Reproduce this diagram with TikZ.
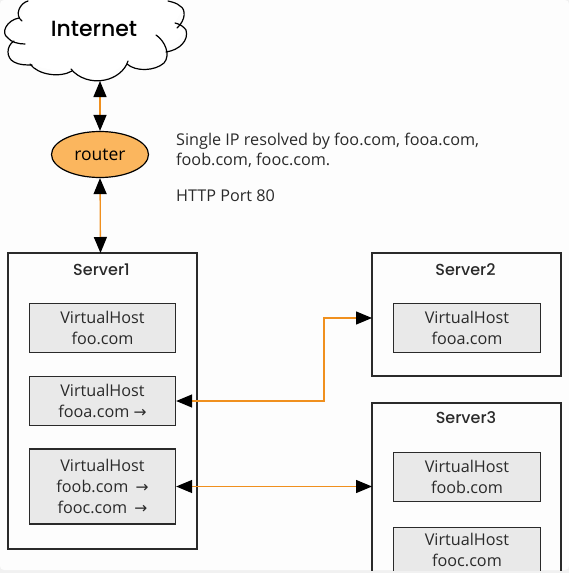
\documentclass[tikz,border=0pt]{standalone}
\usepackage{fontspec}
\setmainfont{Open Sans}
\newfontfamily\medfont{Poppins Medium}
\newfontfamily\arrfont{DejaVu Sans}
\usetikzlibrary{arrows.meta,shapes.geometric}
\definecolor{orangeln}{HTML}{F0901E}
\definecolor{routerfill}{HTML}{FBB65E}
\definecolor{vhfill}{HTML}{E9E9E9}
\definecolor{ln}{HTML}{2A2A2A}
\definecolor{pagebg}{HTML}{FDFDFD}
\definecolor{stripbg}{HTML}{F1F1F1}
\newcommand{\rarr}{{\arrfont\fontsize{15.5}{13}\selectfont →}}
\tikzset{
  x=1pt,y=-1pt,
  server/.style={draw=ln,line width=1.3pt,fill=none,inner sep=0},
  vhost/.style={draw=ln,line width=1.3pt,fill=vhfill,text=ln,align=center,anchor=center,inner sep=0,font=\fontsize{16.2}{20.6}\selectfont},
  title/.style={font=\medfont\fontsize{16}{20}\selectfont,text=ln},
  link/.style={draw=orangeln,line width=1.3pt},
  tipb/.style={{Triangle[black,length=16pt,width=13pt]}-{Triangle[black,length=16pt,width=13pt]}},
  cloudarc/.style={draw=black,line width=1.2pt,line cap=round}
}
\begin{document}
\begin{tikzpicture}
\useasboundingbox (0,0) rectangle (569,573);
\fill[stripbg] (0,0) rectangle (569,573);
\fill[pagebg,rounded corners=4pt] (0,0) rectangle (569,570);
\begin{scope}
\clip (0,0) rectangle (569,570);
% cloud
\fill[white] (28,0) -- (20,18) -- (4,32) -- (14,44) -- (7,55) -- (30,65) -- (70,74) -- (100,81) -- (128,62) -- (165,62) -- (166,50) -- (186,32) -- (175,23) -- (183,8) -- (168,0) -- cycle;
\draw[cloudarc] (28,1) .. controls (20,3) and (14,15) .. (22,21);
\draw[cloudarc] (19,18) .. controls (7,20) and (0,33) .. (8,38) .. controls (11,42) and (18,44) .. (25,44);
\draw[cloudarc] (14,41) .. controls (6,46) and (6,58) .. (14,62) .. controls (19,65) and (26,65) .. (32,65);
\draw[cloudarc] (30,64) .. controls (38,75) and (60,78) .. (72,71);
\draw[cloudarc] (71,69) .. controls (78,78) and (92,83) .. (105,80) .. controls (115,78) and (125,71) .. (128,61);
\draw[cloudarc] (127,64) .. controls (136,72) and (155,71) .. (164,63) .. controls (171,55) and (165,41) .. (156,35);
\draw[cloudarc] (166,52) .. controls (180,50) and (189,40) .. (186,30) .. controls (184,27) and (180,24) .. (175,23);
\draw[cloudarc] (177,28) .. controls (186,20) and (186,9) .. (180,6) .. controls (177,3) and (172,2) .. (168,1);
\end{scope}
\node[font=\medfont\fontsize{22}{28}\selectfont,text=black] (inet) at (94,29) {Internet};
\coordinate (inetb) at (100,81);
\node[draw=black,line width=1.2pt,fill=routerfill,ellipse,minimum width=97pt,minimum height=46pt,inner sep=0,font=\fontsize{17.5}{20}\selectfont] (router) at (100,154.5) {router};
\node[anchor=north west,align=left,font=\fontsize{16.2}{20.5}\selectfont,text=ln,inner sep=0] (note) at (176,132.5) {Single IP resolved by foo.com, fooa.com,\\foob.com, fooc.com.\\[15pt]HTTP Port 80};
% servers
\draw[server] (8,253) rectangle (197,549);
\node[title] (s1) at (101.5,269.5) {Server1};
\draw[server] (372,253) rectangle (561,376);
\node[title] (s2) at (465.5,269.5) {Server2};
\coordinate (s2w) at (372,318);
\begin{scope}
\clip (0,0) rectangle (569,570);
\draw[server] (372,403) rectangle (561,590);
\end{scope}
\node[title] (s3) at (466,418) {Server3};
\coordinate (s3w) at (372,486.5);
\coordinate (s1n) at (100.5,253);
\node[vhost,minimum width=146pt,minimum height=49pt] (v1) at (102.5,328) {VirtualHost\\foo.com};
\node[vhost,minimum width=146pt,minimum height=49pt] (v2) at (102.5,401) {VirtualHost\\fooa.com \rarr};
\node[vhost,minimum width=146pt,minimum height=75pt] (v3) at (102.5,486.5) {VirtualHost\\foob.com\hspace{3pt} \rarr\\fooc.com\hspace{3pt} \rarr};
\node[vhost,minimum width=147pt,minimum height=49pt] (v4) at (467,328) {VirtualHost\\fooa.com};
\node[vhost,minimum width=147pt,minimum height=49pt] (v5) at (467,477) {VirtualHost\\foob.com};
\begin{scope}
\clip (0,0) rectangle (569,570);
\node[vhost,minimum width=147pt,minimum height=76pt,anchor=north] (v6) at (467,527) {};
\end{scope}
\node[font=\fontsize{16.2}{20.6}\selectfont,align=center,text=ln,inner sep=0,anchor=north] (v6t) at (467,533) {VirtualHost\\fooc.com};
% connectors
\draw[link,tipb] (router.north) -- (inetb);
\draw[link,tipb] (router.south) -- (s1n);
\draw[link,tipb] (v2.east) -- (324,401) -- (324,318) -- (s2w);
\draw[link,tipb] (v3.east) -- (s3w);
\end{tikzpicture}
\end{document}
